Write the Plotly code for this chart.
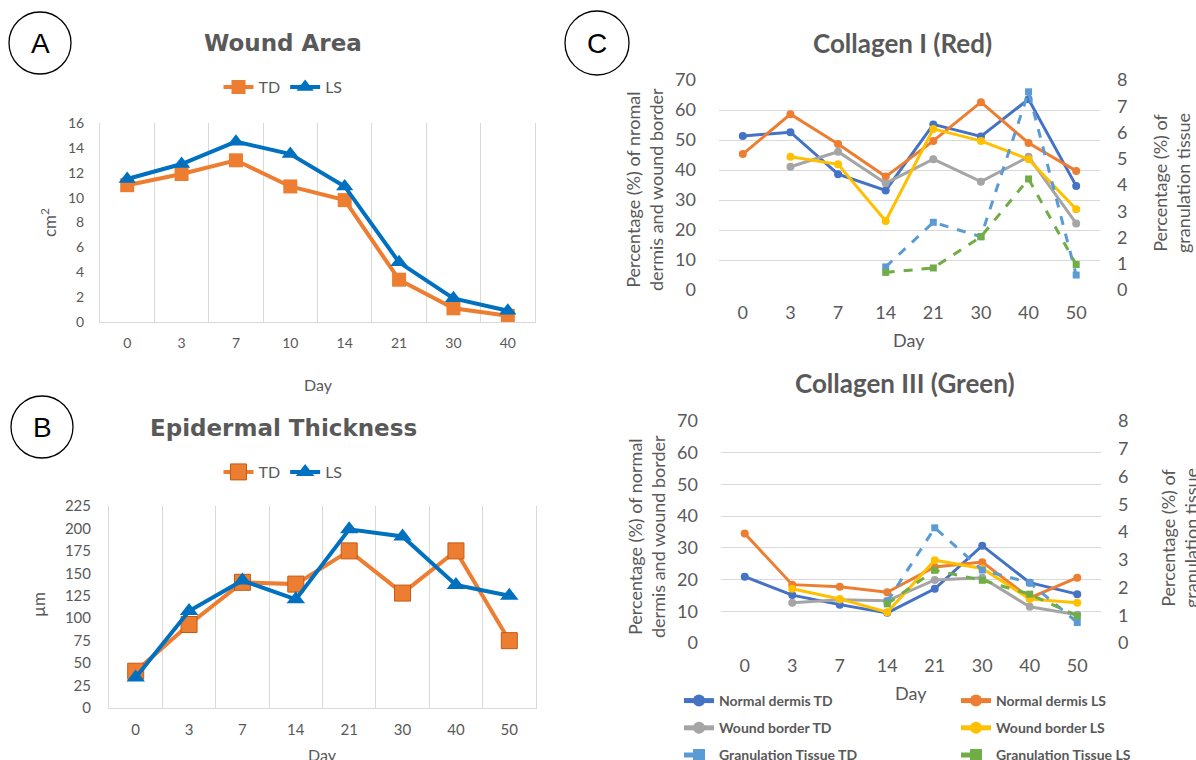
import plotly.graph_objects as go

W, H = 1196, 760


def fx(p):
    return p / W


def fy(p):
    return 1 - p / H


GRID = "#D9D9D9"
TXT = "#595959"
FONT = "Lato"

# ---------------- data ----------------
days_a = ["0", "3", "7", "10", "14", "21", "30", "40"]
area_td = [11.0, 11.9, 13.0, 10.9, 9.8, 3.4, 1.1, 0.5]
area_ls = [11.5, 12.7, 14.5, 13.5, 10.9, 4.8, 1.9, 0.9]

days_b = ["0", "3", "7", "14", "21", "30", "40", "50"]
thick_td = [41, 93, 140, 138, 175, 128, 175, 75]
thick_ls = [34, 108, 142, 121, 199, 191, 137, 125]

days_c = ["0", "3", "7", "14", "21", "30", "40", "50"]
# Collagen I (Red)
c1_nd_td = [51.3, 52.6, 38.6, 33.2, 55.2, 51.2, 63.6, 34.7]
c1_nd_ls = [45.3, 58.6, 48.7, 37.8, 49.7, 62.6, 49.0, 39.7]
c1_wb_td = [None, 41.1, 46.1, 35.6, 43.6, 36.1, 44.4, 22.2]
c1_wb_ls = [None, 44.4, 41.9, 23.0, 53.7, 49.7, 43.6, 26.9]
c1_gt_td = [None, None, None, 0.88, 2.58, 2.03, 7.55, 0.57]
c1_gt_ls = [None, None, None, 0.67, 0.84, 2.03, 4.23, 0.97]
# Collagen III (Green)
c3_nd_td = [20.9, 15.1, 12.1, 9.5, 17.1, 30.7, 19.0, 15.4]
c3_nd_ls = [34.5, 18.4, 17.7, 16.0, 24.0, 25.5, 14.2, 20.6]
c3_wb_td = [None, 12.7, 13.6, 13.3, 19.9, 20.6, 11.4, 8.9]
c3_wb_ls = [None, 17.1, 13.9, 9.7, 26.1, 23.5, 13.9, 12.7]
c3_gt_td = [None, None, None, 1.5, 4.15, 2.63, 2.17, 0.74]
c3_gt_ls = [None, None, None, 1.41, 2.62, 2.26, 1.76, 0.98]

series_names = ["Normal dermis TD", "Normal dermis LS", "Wound border TD",
                "Wound border LS", "Granulation Tissue TD", "Granulation Tissue LS"]
series_colors = ["#4472C4", "#ED7D31", "#A5A5A5", "#FFC000", "#5B9BD5", "#70AD47"]

fig = go.Figure()

# ---------------- Panel A ----------------
fig.add_trace(go.Scatter(
    x=days_a, y=area_td, name="TD", mode="lines+markers",
    line=dict(color="#ED7D31", width=4),
    marker=dict(symbol="square", size=14, color="#ED7D31"),
    xaxis="x", yaxis="y", legend="legend5"))
fig.add_trace(go.Scatter(
    x=days_a, y=area_ls, name="LS", mode="lines+markers",
    line=dict(color="#0070C0", width=4),
    marker=dict(symbol="triangle-up", size=15, color="#0070C0"),
    xaxis="x", yaxis="y", legend="legend5"))

# ---------------- Panel B ----------------
fig.add_trace(go.Scatter(
    x=days_b, y=thick_td, name="TD", mode="lines+markers",
    line=dict(color="#ED7D31", width=4),
    marker=dict(symbol="square", size=16, color="#ED7D31",
                line=dict(color="#C55A11", width=1)),
    xaxis="x2", yaxis="y2", legend="legend2"))
fig.add_trace(go.Scatter(
    x=days_b, y=thick_ls, name="LS", mode="lines+markers",
    line=dict(color="#0070C0", width=4),
    marker=dict(symbol="triangle-up", size=16, color="#0070C0"),
    xaxis="x2", yaxis="y2", legend="legend2"))

# ---------------- Panel C ----------------
c1_vals = [c1_nd_td, c1_nd_ls, c1_wb_td, c1_wb_ls, c1_gt_td, c1_gt_ls]
c3_vals = [c3_nd_td, c3_nd_ls, c3_wb_td, c3_wb_ls, c3_gt_td, c3_gt_ls]

for i, name in enumerate(series_names):
    gran = "Granulation" in name
    style = dict(
        mode="lines+markers",
        line=dict(color=series_colors[i], width=3, dash="dash" if gran else "solid"),
        marker=dict(symbol="square" if gran else "circle", size=7 if gran else 8,
                    color=series_colors[i]),
        connectgaps=False,
        legendgroup=name,
    )
    fig.add_trace(go.Scatter(
        x=days_c, y=c1_vals[i], name=name, xaxis="x3",
        yaxis="y4" if gran else "y3", showlegend=True,
        legend="legend3" if name.endswith("TD") else "legend4", **style))
    fig.add_trace(go.Scatter(
        x=days_c, y=c3_vals[i], name=name, xaxis="x5",
        yaxis="y6" if gran else "y5", showlegend=False, **style))


# ---------------- axes ----------------
def cat_x(dom, anchor, cats, grid, size, standoff):
    return dict(domain=dom, anchor=anchor, type="category",
                categoryorder="array", categoryarray=cats, range=[-0.5, 7.5],
                tickson="boundaries" if grid else "labels",
                showgrid=grid, gridcolor=GRID, gridwidth=1,
                showline=grid, linecolor=GRID, linewidth=1,
                ticks="", zeroline=False, automargin=False,
                tickfont=dict(family=FONT, size=size, color=TXT),
                ticklabelstandoff=standoff)


def val_y(dom, anchor, rng, dtick, grid, size, standoff, **kw):
    d = dict(domain=dom, anchor=anchor, range=rng, dtick=dtick,
             showgrid=grid, gridcolor=GRID, gridwidth=1, zeroline=False,
             ticks="", automargin=False,
             tickfont=dict(family=FONT, size=size, color=TXT),
             ticklabelstandoff=standoff)
    d.update(kw)
    return d


fig.update_layout(
    xaxis=cat_x([fx(100), fx(535)], "y", days_a, True, 14, 8),
    yaxis=val_y([fy(322), fy(123)], "x", [0, 16], 2, False, 14, 12,
                showline=True, mirror=True, linecolor=GRID, linewidth=1),
    xaxis2=cat_x([fx(109), fx(536)], "y2", days_b, True, 15, 8),
    yaxis2=val_y([fy(708), fy(506)], "x2", [0, 225], 25, False, 15, 14,
                 showline=True, mirror=True, linecolor=GRID, linewidth=1),
    xaxis3=cat_x([fx(719), fx(1100)], "y3", days_c, False, 18, 10),
    yaxis3=val_y([fy(290), fy(80)], "x3", [0, 70], 10, True, 18, 22),
    yaxis4=val_y([fy(290), fy(80)], "x3", [0, 8], 1, False, 18, 16,
                 overlaying="y3", side="right"),
    xaxis5=cat_x([fx(721), fx(1101)], "y5", days_c, False, 18, 10),
    yaxis5=val_y([fy(643), fy(421)], "x5", [0, 70], 10, True, 18, 22),
    yaxis6=val_y([fy(643), fy(421)], "x5", [0, 8], 1, False, 18, 16,
                 overlaying="y5", side="right"),
)

# ---------------- legends ----------------
small_leg = dict(orientation="h", xanchor="center", yanchor="middle",
                 bgcolor="rgba(0,0,0,0)", itemwidth=30,
                 font=dict(family=FONT, size=16, color=TXT))
big_leg = dict(orientation="v", xanchor="left", yanchor="top",
               bgcolor="rgba(0,0,0,0)", itemwidth=30, tracegroupgap=6,
               itemsizing="constant",
               font=dict(family=FONT, size=14, color=TXT, weight="bold"))
fig.update_layout(
    legend5=dict(x=fx(283), y=fy(87), **small_leg),
    legend2=dict(x=fx(283), y=fy(472), **small_leg),
    legend3=dict(x=fx(679), y=fy(685), **big_leg),
    legend4=dict(x=fx(956), y=fy(685), **big_leg),
)


# ---------------- text ----------------
def ann(text, px, py, size, family=FONT, bold=False, angle=0, color=TXT):
    return dict(text=text, x=fx(px), y=fy(py), xref="paper", yref="paper",
                xanchor="center", yanchor="middle", showarrow=False,
                textangle=angle,
                font=dict(family=family, size=size, color=color,
                          weight="bold" if bold else "normal"))


annotations = [
    ann("Wound Area", 283, 43, 23, "DejaVu Sans", True),
    ann("Epidermal Thickness", 283, 428, 23, "DejaVu Sans", True),
    ann("Collagen I (Red)", 902, 43, 26, FONT, True),
    ann("Collagen III (Green)", 905, 383, 26, FONT, True),
    ann("cm<sup>2</sup>", 48, 223, 17, angle=-90),
    ann("µm", 38, 605, 17, angle=-90),
    ann("Day", 318, 384, 16),
    ann("Day", 322, 754, 16),
    ann("Day", 909, 340, 18),
    ann("Day", 911, 693, 18),
    ann("Percentage (%) of nromal<br>dermis and wound border", 644, 190, 18, angle=-90),
    ann("Percentage (%) of normal<br>dermis and wound border", 646, 537, 18, angle=-90),
    ann("Percentage (%) of<br>granulation tissue", 1171, 183, 18, angle=-90),
    ann("Percentage (%) of<br>granulation tissue", 1179, 538, 18, angle=-90),
    ann("A", 40, 43, 28, "Liberation Sans", color="black"),
    ann("B", 42, 427, 28, "Liberation Sans", color="black"),
    ann("C", 597, 43, 28, "Liberation Sans", color="black"),
]


def circ(cx, cy, r):
    return dict(type="circle", xref="paper", yref="paper",
                x0=fx(cx - r), x1=fx(cx + r), y0=fy(cy + r), y1=fy(cy - r),
                line=dict(color="black", width=1.3))


fig.update_layout(
    annotations=annotations,
    shapes=[circ(40, 43, 31), circ(42, 427, 31), circ(597, 43, 32)],
    width=W, height=H, autosize=False,
    margin=dict(l=0, r=0, t=0, b=0, autoexpand=False),
    paper_bgcolor="white", plot_bgcolor="white",
    showlegend=True,
)

fig.write_html("out.html",
               config={"displayModeBar": False},
               post_script="document.body.style.margin='0px';"
                           "document.body.style.overflow='hidden';")
